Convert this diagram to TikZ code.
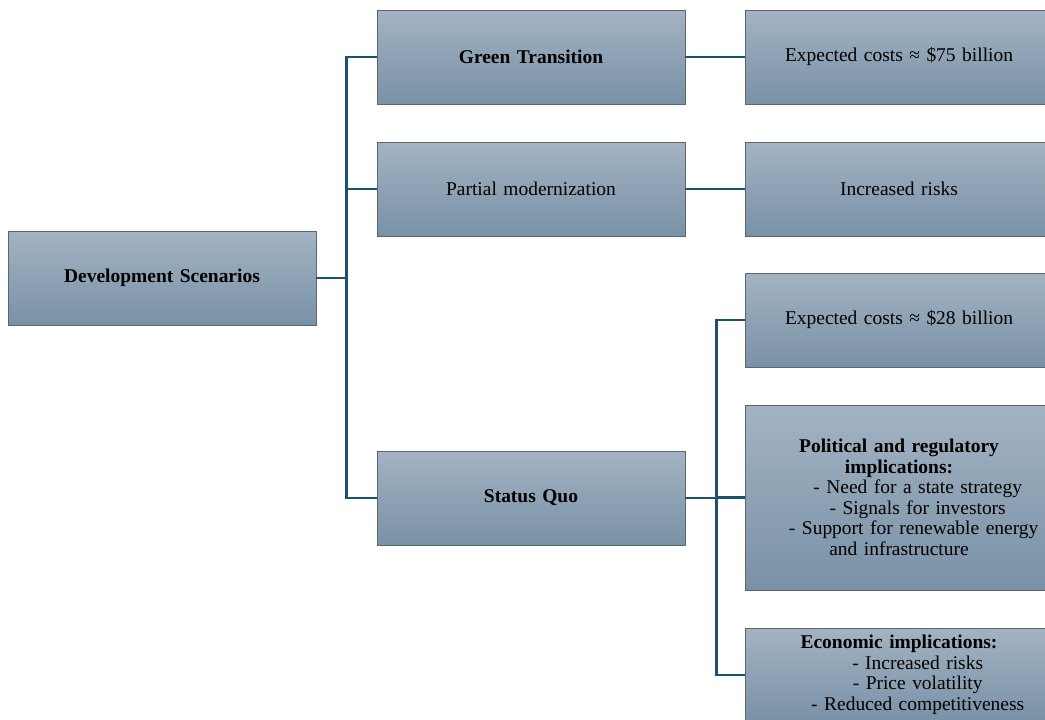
\documentclass[tikz,border=0pt]{standalone}
\usepackage{fontspec}
\setmainfont{Liberation Serif}
\usepackage{xcolor}

\definecolor{boxtop}{RGB}{163,179,194}
\definecolor{boxbot}{RGB}{121,145,167}
\definecolor{boxline}{RGB}{92,102,112}
\definecolor{linkcol}{RGB}{27,82,110}

\tikzset{
  box/.style={draw=boxline, line width=0.6pt, top color=boxtop, bottom color=boxbot,
    minimum width=231pt, minimum height=70.5pt, text width=225pt, inner xsep=3pt,
    align=center, font=\fontsize{14.6}{15.4}\selectfont},
  link/.style={draw=linkcol, line width=2pt}
}

\begin{document}
\begin{tikzpicture}[x=0.75pt, y=-0.75pt]
  % Cadre de l'image
  \path[use as bounding box] (0,0) rectangle (1045,719);
  \clip (0,0) rectangle (1045,719);

  % Racine
  \node[box] (root) at (162,278) {\textbf{Development Scenarios}};

  % Scenarios
  \node[box] (green) at (531,57) {\textbf{Green Transition}};
  \node[box] (partial) at (531,189) {Partial modernization};
  \node[box] (status) at (531,498) {\textbf{Status Quo}};

  % Consequences
  \node[box] (cost75) at (899,57) {Expected costs ≈ \$75 billion};
  \node[box] (risks) at (899,189) {Increased risks};
  \node[box] (cost28) at (899,320) {Expected costs ≈ \$28 billion};
  \node[box, minimum height=138.75pt] (policy) at (899,497.5)
    {\textbf{Political and regulatory}\\ \textbf{implications:}\\
     \hspace*{28pt}- Need for a state strategy\\
     \hspace*{28pt}- Signals for investors\\
     \hspace*{22pt}- Support for renewable energy\\
     and infrastructure};
  \node[box] (economy) at (899,675)
    {\textbf{Economic implications:}\\
     \hspace*{28pt}- Increased risks\\
     \hspace*{28pt}- Price volatility\\
     \hspace*{28pt}- Reduced competitiveness};

  % Liaisons depuis la racine
  \draw[link] (root.east) -- +(30,0) coordinate (trunk);
  \draw[link] (trunk) |- (green.west);
  \draw[link] (trunk) |- (partial.west);
  \draw[link] (trunk) |- (status.west);

  % Liaisons vers les consequences
  \draw[link] (green.east) -- (cost75.west);
  \draw[link] (partial.east) -- (risks.west);
  \draw[link] (status.east) -- +(31,0) coordinate (fork);
  \draw[link] (fork) |- (cost28.west);
  \draw[link] (fork) |- (policy.west);
  \draw[link] (fork) |- (economy.west);
\end{tikzpicture}
\end{document}
